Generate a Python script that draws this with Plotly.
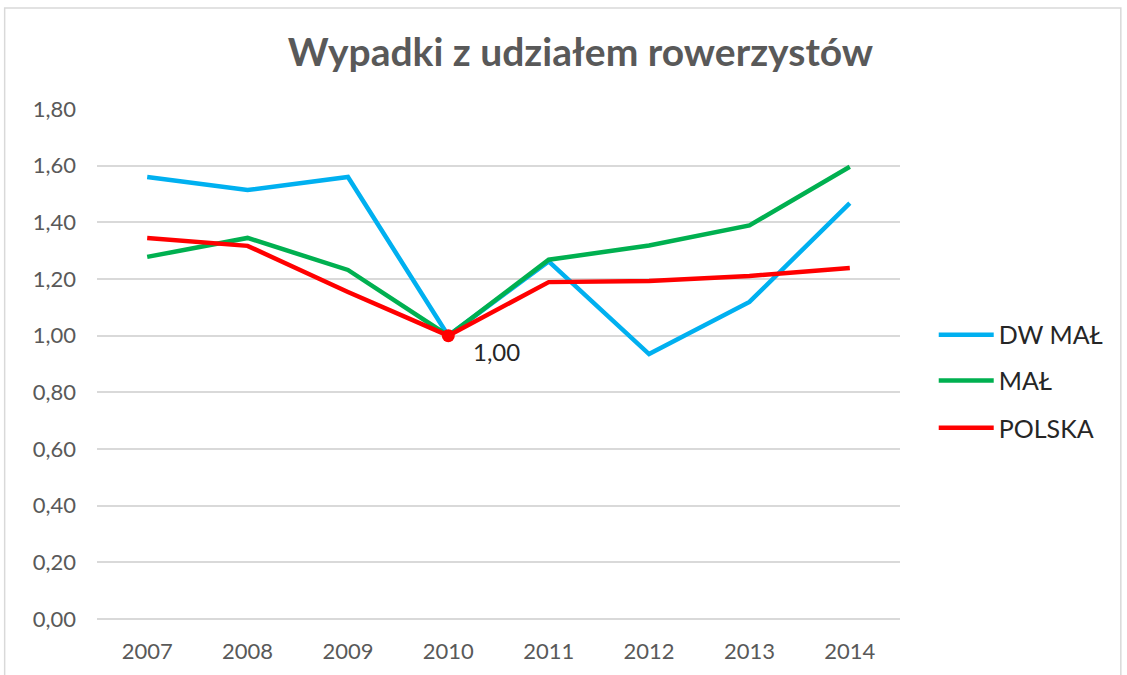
import plotly.graph_objects as go

years = [2007, 2008, 2009, 2010, 2011, 2012, 2013, 2014]
dw_mal = [1.56, 1.514, 1.56, 1.00, 1.262, 0.935, 1.119, 1.468]
mal = [1.278, 1.345, 1.232, 1.00, 1.268, 1.318, 1.389, 1.596]
polska = [1.345, 1.317, 1.154, 1.00, 1.189, 1.193, 1.211, 1.239]
y_ticks = [0.0, 0.2, 0.4, 0.6, 0.8, 1.0, 1.2, 1.4, 1.6, 1.8]

FONT = "Century Gothic, Lato, Noto Sans, sans-serif"
LEG_FONT = dict(family=FONT, size=25, color="#262626")

fig = go.Figure()
fig.add_trace(go.Scatter(x=years, y=dw_mal, name="DW MAŁ", mode="lines",
                         line=dict(color="#00B0F0", width=4.5), legend="legend"))
fig.add_trace(go.Scatter(x=years, y=mal, name="MAŁ", mode="lines",
                         line=dict(color="#00B050", width=4.5), legend="legend2"))
fig.add_trace(go.Scatter(x=years, y=polska, name="POLSKA", mode="lines",
                         line=dict(color="#FF0000", width=4.5), legend="legend3"))
# highlighted point
fig.add_trace(go.Scatter(x=[years[3]], y=[polska[3]], mode="markers",
                         marker=dict(color="#FF0000", size=13), showlegend=False,
                         hoverinfo="skip"))
fig.add_annotation(x=years[3], y=polska[3], text="1,00", showarrow=False,
                   xanchor="left", yanchor="top", xshift=23, yshift=1,
                   font=dict(family=FONT, size=24, color="#262626"))

leg_common = dict(x=1.042, xanchor="left", yanchor="middle", font=LEG_FONT,
                  itemwidth=55, bgcolor="rgba(0,0,0,0)")
fig.update_layout(
    width=1127, height=675,
    paper_bgcolor="white", plot_bgcolor="white",
    separators=",.",
    margin=dict(l=97, r=227, t=109, b=56),
    title=dict(text="<b>Wypadki z udziałem rowerzystów</b>", x=0.515, xanchor="center",
               y=0.922, yanchor="middle",
               font=dict(family=FONT, size=39, color="#595959")),
    font=dict(family=FONT, color="#595959"),
    legend=dict(y=0.557, **leg_common),
    legend2=dict(y=0.467, **leg_common),
    legend3=dict(y=0.3745, **leg_common),
    showlegend=True,
    shapes=[dict(type="rect", xref="paper", yref="paper",
                 x0=-0.115, x1=1.275, y0=-0.2, y1=1.198,
                 line=dict(color="#D9D9D9", width=1.5), layer="below")],
)
fig.update_xaxes(range=[2006.5, 2014.5], tickvals=years, tickformat="d",
                 showgrid=False, showline=False, zeroline=False,
                 tickfont=dict(family=FONT, size=22, color="#595959"),
                 ticks="", ticklabelstandoff=17)
fig.update_yaxes(range=[0, 1.8], tickvals=y_ticks, tickformat=".2f",
                 showgrid=True, gridcolor="#D9D9D9", gridwidth=1.5,
                 zeroline=True, zerolinecolor="#D9D9D9", zerolinewidth=1.5,
                 showline=False, ticks="",
                 tickfont=dict(family=FONT, size=22, color="#595959"),
                 ticklabelstandoff=20)

fig.write_html("out.html", config={"displayModeBar": False},
               post_script="document.body.style.margin='0';document.body.style.overflow='hidden';")
